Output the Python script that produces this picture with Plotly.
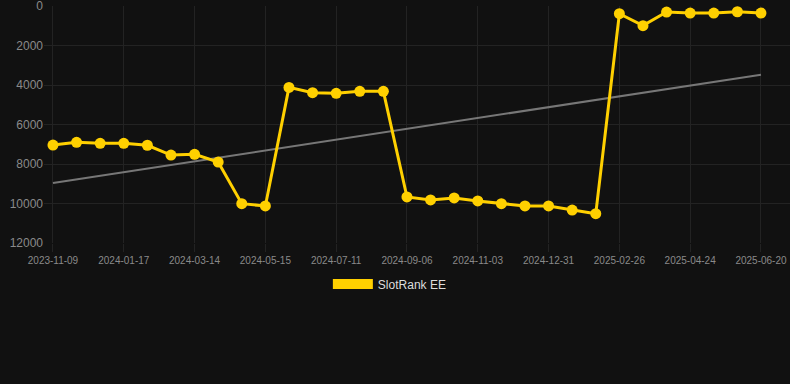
import numpy as np
import plotly.graph_objects as go

dates = [
    "2023-11-09", "2023-12-02", "2023-12-25", "2024-01-17", "2024-02-05", "2024-02-24",
    "2024-03-14", "2024-04-03", "2024-04-24", "2024-05-15", "2024-06-03", "2024-06-22",
    "2024-07-11", "2024-07-30", "2024-08-18", "2024-09-06", "2024-09-25", "2024-10-14",
    "2024-11-03", "2024-11-22", "2024-12-11", "2024-12-31", "2025-01-19", "2025-02-07",
    "2025-02-26", "2025-03-17", "2025-04-05", "2025-04-24", "2025-05-13", "2025-06-01",
    "2025-06-20",
]
rank = [
    7040, 6900, 6950, 6950, 7050, 7545, 7510, 7900, 10010, 10125,
    4120, 4390, 4420, 4320, 4320,
    9670, 9820, 9720, 9870, 10010, 10125, 10125, 10330, 10515,
    390, 995, 305, 355, 355, 290, 355,
]
tick_labels = dates[::3]
y_ticks = [0, 2000, 4000, 6000, 8000, 10000, 12000]
series_name = "SlotRank EE"

idx = np.arange(len(rank))
slope, intercept = np.polyfit(idx, rank, 1)
trend = slope * idx + intercept

gold = "#FFD000"
grid = "#232323"
fig = go.Figure()
fig.add_trace(go.Scatter(
    x=dates, y=trend, mode="lines",
    line=dict(color="#777777", width=2), showlegend=False, hoverinfo="skip",
))
fig.add_trace(go.Scatter(
    x=dates, y=rank, mode="lines+markers", name=series_name,
    line=dict(color=gold, width=3), marker=dict(color=gold, size=11),
    showlegend=False,
))
fig.add_trace(go.Scatter(
    x=[None], y=[None], mode="lines", name=series_name,
    line=dict(color=gold, width=10), showlegend=True,
))

fig.update_layout(
    width=790, height=384,
    paper_bgcolor="#111111", plot_bgcolor="#111111",
    margin=dict(l=44, r=0, t=6, b=141),
    font=dict(family="Liberation Sans, Arial, sans-serif", color="#8a8a8a"),
    legend=dict(
        orientation="h", xref="container", yref="container",
        x=0.4935, xanchor="center", y=1 - 284 / 384, yanchor="middle",
        font=dict(size=12, color="#dddddd"), itemwidth=40,
        bgcolor="rgba(0,0,0,0)",
    ),
    xaxis=dict(
        type="category", categoryorder="array", categoryarray=dates,
        range=[-0.38, len(dates) - 1 + 1.23],
        tickmode="array", tickvals=tick_labels, ticktext=tick_labels,
        showgrid=True, gridcolor=grid, gridwidth=1,
        zeroline=False, showline=False,
        ticks="outside", ticklen=8, tickcolor=grid,
        tickfont=dict(size=10, color="#8a8a8a"),
    ),
    yaxis=dict(
        range=[12000, -0.5], tickmode="array", tickvals=y_ticks,
        ticktext=[str(v) for v in y_ticks], ticklabeloverflow="allow",
        showgrid=True, gridcolor=grid, gridwidth=1,
        zeroline=False, showline=False, ticks="",
        tickfont=dict(size=12, color="#8a8a8a"),
    ),
)

fig.write_html(
    "out.html",
    config={"displayModeBar": False},
    post_script="document.body.style.margin='0';document.body.style.background='#111111';",
)
